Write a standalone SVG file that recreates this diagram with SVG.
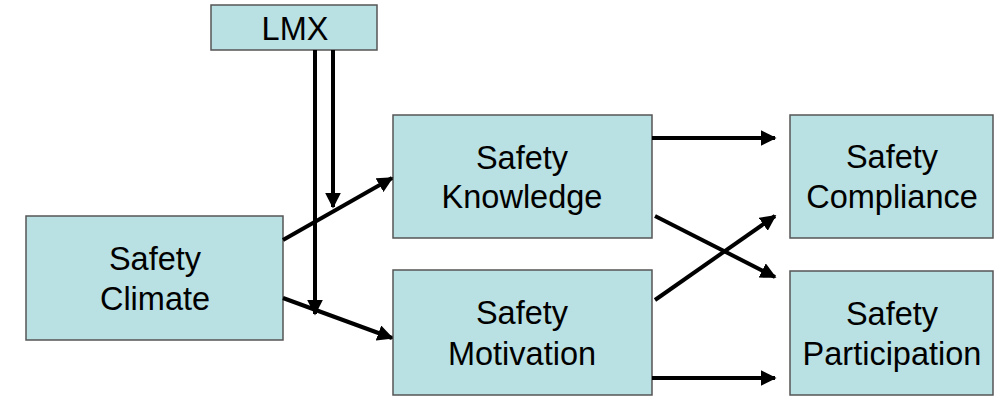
<svg xmlns="http://www.w3.org/2000/svg" width="1000" height="402" viewBox="0 0 1000 402">
<style>
.box{fill:#b9e0e3;stroke:#555;stroke-width:1.5}
.t{font-family:"Liberation Sans",Arial,sans-serif;font-size:32.5px;fill:#000;text-anchor:middle}
.c{stroke:#000;stroke-width:4;fill:none;marker-end:url(#ah)}
</style>
<defs>
<marker id="ah" viewBox="0 0 10 10" refX="9" refY="5" markerWidth="4" markerHeight="4" orient="auto" markerUnits="strokeWidth">
<path d="M0,0 L10,5 L0,10 z" fill="#000"/>
</marker>
</defs>
<rect width="1000" height="402" fill="#fff"/>
<g id="lmx"><rect class="box" x="211" y="5" width="166" height="45"/><text class="t" x="295" y="40">LMX</text></g>
<g id="climate"><rect class="box" x="26" y="216" width="257" height="124"/><text class="t" x="155" y="270">Safety</text><text class="t" x="155" y="310">Climate</text></g>
<g id="knowledge"><rect class="box" x="393" y="115" width="259" height="123"/><text class="t" x="522" y="169">Safety</text><text class="t" x="522" y="208">Knowledge</text></g>
<g id="motivation"><rect class="box" x="393" y="270" width="259" height="125"/><text class="t" x="522" y="324">Safety</text><text class="t" x="522" y="365">Motivation</text></g>
<g id="compliance"><rect class="box" x="790" y="115" width="203" height="123"/><text class="t" x="892" y="168">Safety</text><text class="t" x="892" y="208">Compliance</text></g>
<g id="participation"><rect class="box" x="790" y="271" width="203" height="124"/><text class="t" x="892" y="325">Safety</text><text class="t" x="892" y="365">Participation</text></g>
<g id="connectors">
<line class="c" x1="315" y1="50" x2="315" y2="314"/>
<line class="c" x1="333" y1="50" x2="333" y2="207"/>
<line class="c" x1="283" y1="240" x2="392" y2="178"/>
<line class="c" x1="283" y1="298" x2="392" y2="338"/>
<line class="c" x1="652" y1="138" x2="775" y2="138"/>
<line class="c" x1="655" y1="216" x2="775" y2="277"/>
<line class="c" x1="655" y1="300" x2="775" y2="216"/>
<line class="c" x1="652" y1="378" x2="775" y2="378"/>
</g>
</svg>
